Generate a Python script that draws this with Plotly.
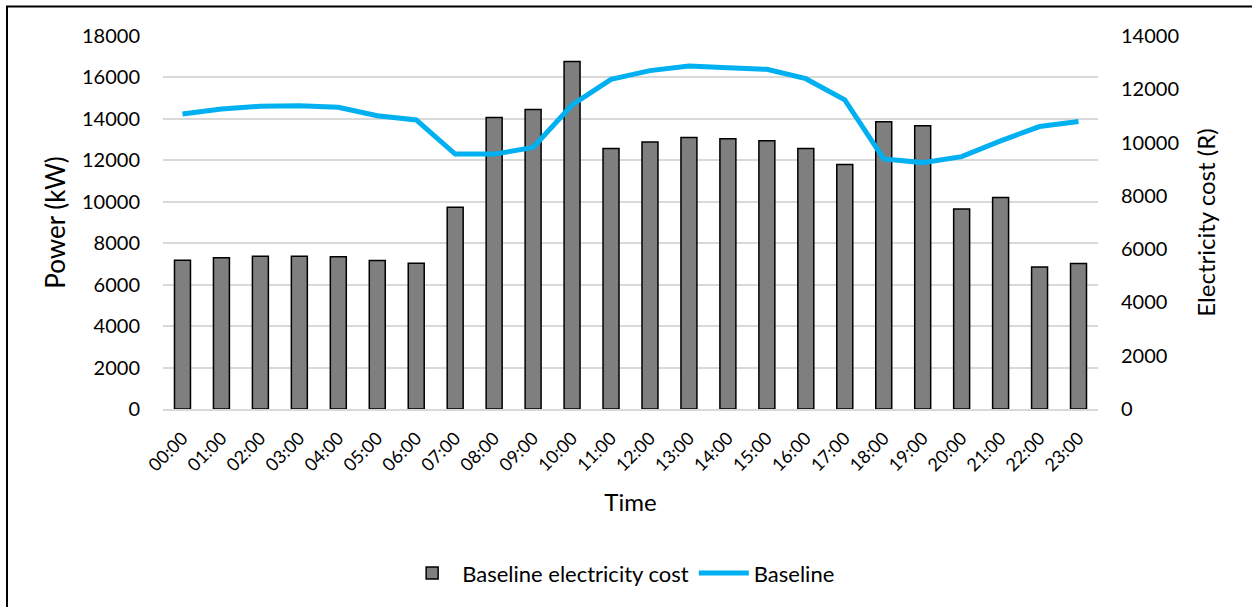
import plotly.graph_objects as go

times = ["00:00", "01:00", "02:00", "03:00", "04:00", "05:00", "06:00", "07:00",
         "08:00", "09:00", "10:00", "11:00", "12:00", "13:00", "14:00", "15:00",
         "16:00", "17:00", "18:00", "19:00", "20:00", "21:00", "22:00", "23:00"]

cost = [5580, 5680, 5730, 5730, 5710, 5570, 5470, 7570,
        10940, 11240, 13040, 9780, 10020, 10190, 10140, 10070,
        9780, 9180, 10780, 10630, 7510, 7940, 5330, 5460]

power = [14240, 14480, 14610, 14630, 14560, 14150, 13950, 12300,
         12300, 12620, 14670, 15910, 16330, 16550, 16470, 16390,
         15940, 14920, 12070, 11890, 12180, 12940, 13630, 13870]

FONT = "Lato"
TXT = "#000000"

fig = go.Figure()
fig.add_trace(go.Bar(
    x=times, y=cost, name="Baseline electricity cost", yaxis="y",
    marker=dict(color="#7f7f7f", line=dict(color="#000000", width=1.5)),
))
fig.add_trace(go.Scatter(
    x=times, y=power, name="Baseline", yaxis="y2", mode="lines",
    line=dict(color="#00b0f0", width=5),
))

fig.update_layout(
    width=1252, height=607,
    margin=dict(l=163, r=154, t=36, b=197.5, autoexpand=False),
    paper_bgcolor="white", plot_bgcolor="white",
    font=dict(family=FONT, size=20, color=TXT),
    bargap=0.59,
    showlegend=True,
    legend=dict(orientation="h", x=0.49, xanchor="center", y=-0.44, yanchor="middle",
                font=dict(size=22), traceorder="normal", itemwidth=50),
    xaxis=dict(type="category", showline=True, linecolor="#d9d9d9", linewidth=1.5,
               ticks="", tickangle=-45, tickfont=dict(size=18), ticklabelstandoff=10,
               title=dict(text="Time", font=dict(size=24), standoff=20),
               showgrid=False, zeroline=False),
    yaxis=dict(side="right", range=[0, 14000], dtick=2000, showgrid=False, zeroline=False,
               tickformat="d",
               ticks="", ticklabelstandoff=22, tickfont=dict(size=20),
               title=dict(text="Electricity cost (R)", font=dict(size=24), standoff=20)),
    yaxis2=dict(side="left", overlaying="y", range=[0, 18000], dtick=2000,
                tickformat="d",
                showgrid=True, gridcolor="#d9d9d9", gridwidth=1.5, zeroline=False,
                ticks="", ticklabelstandoff=22, tickfont=dict(size=20),
                title=dict(text="Power (kW)", font=dict(size=26), standoff=8)),
    shapes=[dict(type="rect", xref="paper", yref="paper",
                 x0=(7 - 163) / 935, x1=1.25, y0=-1.2, y1=(409.5 - 6.5) / 373.5,
                 line=dict(color="black", width=2), fillcolor="rgba(0,0,0,0)", layer="above")],
)

fig.write_html("out.html", config={"displayModeBar": False},
               post_script="document.body.style.margin='0px';")
